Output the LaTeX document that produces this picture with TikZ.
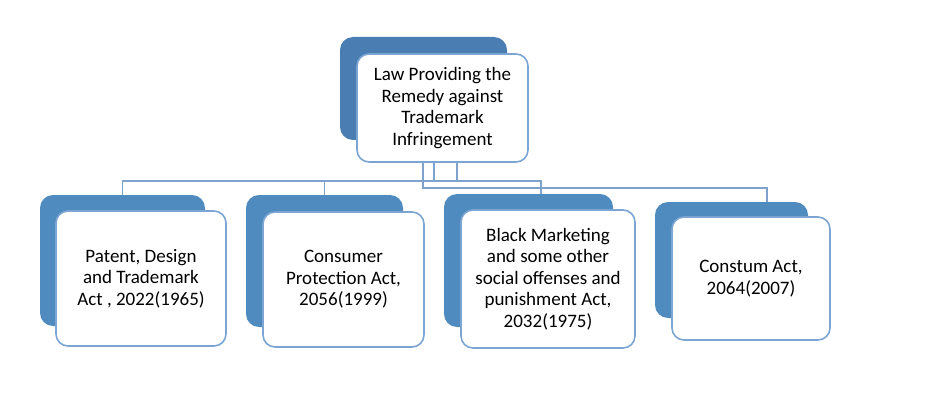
\documentclass[tikz,border=0pt]{standalone}
\usepackage{fontspec}
\setmainfont{Carlito}
\definecolor{backtop}{RGB}{74,125,178}
\definecolor{backblue}{RGB}{80,139,191}
\definecolor{rimblue}{RGB}{124,165,212}
\definecolor{lineblue}{RGB}{126,162,206}

\begin{document}
\begin{tikzpicture}[x=1pt,y=-1pt,
     backbox/.style = {rectangle, fill=backblue, rounded corners=13pt, inner sep=0pt},
     box/.style = {draw=rimblue, line width=1.6pt, fill=white, rectangle, rounded corners=12pt,
      align=center, inner sep=2pt, font=\fontsize{19}{21.5}\selectfont},
     conn/.style = {draw=lineblue, line width=1.4pt}
    ]
    \useasboundingbox (0,0) rectangle (942,401);

    % junctions of the connectors
    \coordinate (ja) at (457,181);
    \coordinate (jb) at (434,181);
    \coordinate (jc) at (541,181);
    \coordinate (jd) at (423,188);
    \coordinate (je) at (767,188);

    \node [backbox, fill=backtop, minimum width=167pt, minimum height=103pt] (lawb) at (423.5,88.5) {};
    \node [box, minimum width=171pt, minimum height=108pt] (law) at (442.5,108)
      {Law Providing the\\Remedy against\\Trademark\\Infringement};

    \node [backbox, minimum width=165pt, minimum height=131pt] (patb) at (122.5,260.5) {};
    \node [backbox, minimum width=157pt, minimum height=132pt] (conb) at (324.5,261) {};
    \node [backbox, minimum width=169pt, minimum height=133pt] (blkb) at (528.5,260.5) {};
    \node [backbox, minimum width=153pt, minimum height=116pt] (cusb) at (731.5,260) {};

    \draw[conn] (law.south -| ja) -- (ja);
    \draw[conn] (law.south -| jb) -- (jb);
    \draw[conn] (patb.north) |- (jc) -- (jc |- blkb.north);
    \draw[conn] (conb.north) -- (conb.north |- jc);
    \draw[conn] (law.south -| jd) |- (je) -- (je |- cusb.north);

    \node [box, minimum width=170pt, minimum height=135pt] (pat) at (141,278.5)
      {Patent, Design\\and Trademark\\Act , 2022(1965)};
    \node [box, minimum width=161pt, minimum height=135pt] (con) at (343.5,279.5)
      {Consumer\\Protection Act,\\2056(1999)};
    \node [box, minimum width=174pt, minimum height=138pt] (blk) at (548,279)
      {Black Marketing\\and some other\\social offenses and\\punishment Act,\\2032(1975)};
    \node [box, minimum width=158pt, minimum height=123pt] (cus) at (751,278.5)
      {Constum Act,\\2064(2007)};

\end{tikzpicture}
\end{document}
